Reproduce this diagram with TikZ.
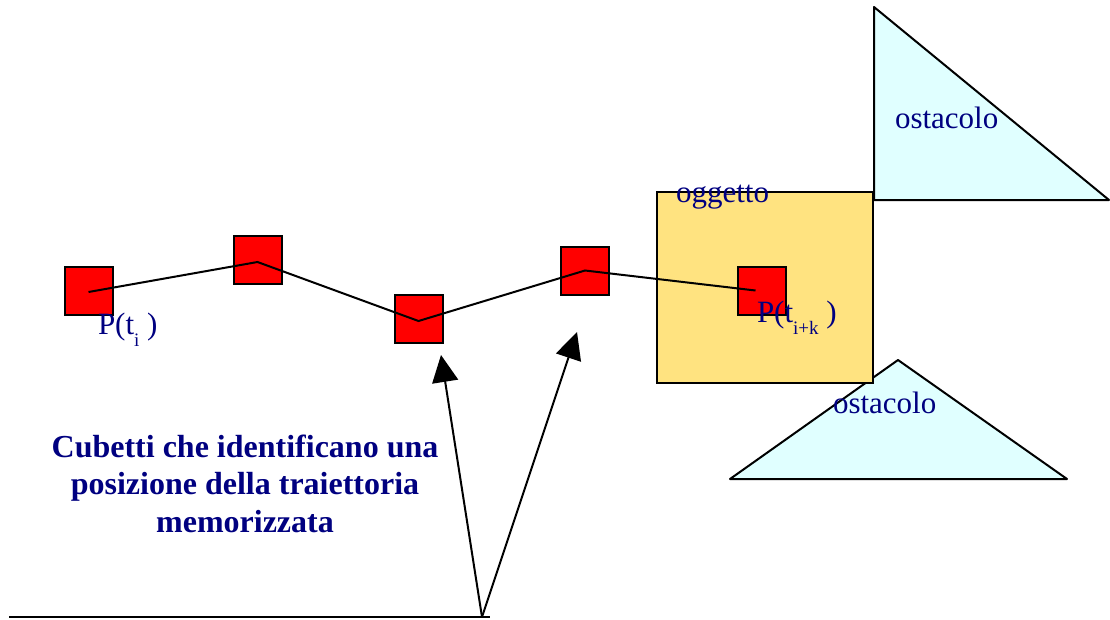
\documentclass[tikz,border=0pt]{standalone}
\usepackage{fontspec}
\setmainfont{Liberation Serif}
\usetikzlibrary{arrows.meta}
\definecolor{txtblue}{RGB}{0,0,128}
\definecolor{cubered}{RGB}{255,0,0}
\definecolor{objyellow}{RGB}{255,227,128}
\definecolor{obscyan}{RGB}{224,255,255}
\tikzset{
  cube/.style={draw=black, line width=2pt, fill=cubered, minimum size=48pt, inner sep=0pt, outer sep=0pt},
  lbl/.style={text=txtblue, inner sep=0pt, outer sep=0pt, font=\fontsize{31}{37}\selectfont},
  boldlbl/.style={text=txtblue, inner sep=0pt, outer sep=0pt, font=\fontsize{32}{37}\selectfont\bfseries, anchor=base},
  obstacle/.style={draw=black, line width=2pt, fill=obscyan, line join=round},
  pathline/.style={draw=black, line width=2pt},
  pointer/.style={draw=black, line width=2pt, -{Triangle[length=27pt,width=26pt]}},
}
\newcommand{\subtxt}[1]{\raisebox{-12pt}{\fontsize{19}{19}\selectfont #1}}
\begin{document}
\begin{tikzpicture}[x=1pt,y=-1pt]
\useasboundingbox (0,0) rectangle (1110,619);
% obstacles
\draw[obstacle] (874,7) -- (874,200) -- (1109,200) -- cycle;
\draw[obstacle] (898,360) -- (1067,479) -- (730,479) -- cycle;
% object
\draw[draw=black, line width=2pt, fill=objyellow] (657,192) rectangle (873,383);
% cubes
\node[cube] (c1) at (88.5,290.5) {};
\node[cube] (c2) at (257.5,259.5) {};
\node[cube] (c3) at (418.5,319) {};
\node[cube] (c4) at (585,270.5) {};
\node[cube] (c5) at (761.5,290.5) {};
% trajectory
\draw[pathline] ([yshift=-1.5pt]c1.center) -- ([yshift=-2.5pt]c2.center) -- ([yshift=-2pt]c3.center) -- (c4.center) -- ([xshift=-6pt]c5.center);
% labels
\node[lbl, anchor=base west] (ob1) at (895,128) {ostacolo};
\node[lbl, anchor=base west] (ob2) at (833,413) {ostacolo};
\node[lbl, anchor=base west] (obj) at (676,202) {oggetto};
\node[lbl, anchor=base west] (pti) at (98,334) {P(t\subtxt{i}\ )};
\node[lbl, anchor=base west] (ptik) at (757,322) {P(t\subtxt{i+k}\ )};
% caption
\node[boldlbl] (cap1) at (245,457) {Cubetti che identificano una};
\node[boldlbl] (cap2) at (245,494) {posizione della traiettoria};
\node[boldlbl] (cap3) at (245,532) {memorizzata};
% pointers
\coordinate (root) at (482,617);
\coordinate (lineend) at (9,617);
\coordinate (tipA) at (441,355);
\coordinate (tipB) at (577,332);
\draw[pathline] (lineend) -- ([xshift=8pt]root);
\draw[pointer] (root) -- (tipA);
\draw[pointer] (root) -- (tipB);
\end{tikzpicture}
\end{document}
